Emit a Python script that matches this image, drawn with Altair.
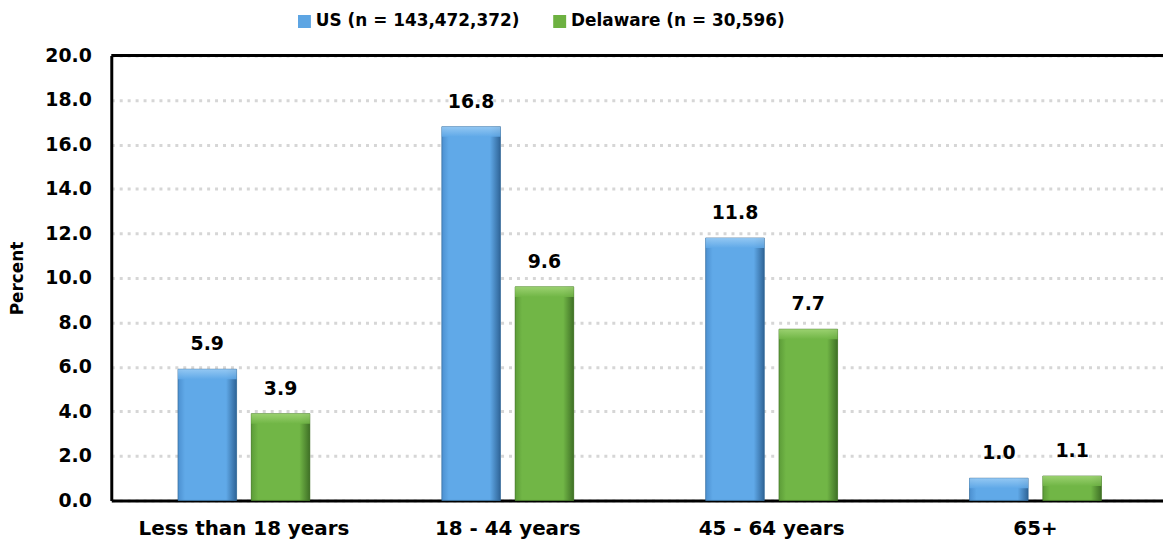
import altair as alt
import pandas as pd

categories = ["Less than 18 years", "18 - 44 years", "45 - 64 years", "65+"]
series = ["US (n = 143,472,372)", "Delaware (n = 30,596)"]
us_values = [5.9, 16.8, 11.8, 1.0]
de_values = [3.9, 9.6, 7.7, 1.1]
y_ticks = [0, 2, 4, 6, 8, 10, 12, 14, 16, 18, 20]
colors = ["#5DA5E3", "#6DB141"]

rows = []
for c, u, d in zip(categories, us_values, de_values):
    rows.append({"cat": c, "series": series[0], "value": u})
    rows.append({"cat": c, "series": series[1], "value": d})
df = pd.DataFrame(rows)

FONT = "DejaVu Sans"

x = alt.X("cat:N", sort=categories, title=None,
          scale=alt.Scale(paddingInner=0.5, paddingOuter=0.243, align=0.52),
          axis=alt.Axis(labelAngle=0, labelFont=FONT, labelFontSize=20, labelFontWeight="bold",
                        labelColor="black", ticks=False, labelPadding=18, labelLimit=0,
                        domainColor="black", domainWidth=3))
y = alt.Y("value:Q", title="Percent",
          scale=alt.Scale(domain=[0, 20], nice=False),
          axis=alt.Axis(values=y_ticks, format=".1f", labelFont=FONT, labelFontSize=19,
                        labelFontWeight="bold", labelColor="black", ticks=False, labelPadding=20,
                        domainColor="black", domainWidth=3,
                        grid=True, gridColor="#D6D6D6", gridWidth=3, gridDash=[3, 5],
                        titleFont=FONT, titleFontSize=17, titleFontWeight="bold", titleColor="black",
                        titleX=-94, titleY=224, titleAngle=270, titleBaseline="middle",
                        titleAlign="center"))
xoff = alt.XOffset("series:N", sort=series,
                   scale=alt.Scale(paddingInner=0.2, paddingOuter=0))
x_plain = alt.X("cat:N", sort=categories)
xoff_plain = alt.XOffset("series:N", sort=series)

bars = alt.Chart(df).mark_bar().encode(
    x=x, y=y, xOffset=xoff,
    color=alt.Color("series:N", sort=series,
                    scale=alt.Scale(domain=series, range=colors),
                    legend=alt.Legend(title=None, orient="none", direction="horizontal",
                                      legendX=186, legendY=-43, symbolType="square",
                                      symbolSize=170, symbolStrokeWidth=0,
                                      labelFont=FONT, labelFontSize=17, labelFontWeight="bold",
                                      labelColor="black", labelOffset=3, columnPadding=31,
                                      labelLimit=400, padding=0)),
)


def grad(edge_l, main, edge_r):
    return alt.Gradient(
        gradient="linear", x1=0, x2=1, y1=0, y2=0,
        stops=[alt.GradientStop(color=edge_l, offset=0),
               alt.GradientStop(color=main, offset=0.12),
               alt.GradientStop(color=main, offset=0.82),
               alt.GradientStop(color=edge_r, offset=1)])


def top_grad(light, main):
    return alt.Gradient(
        gradient="linear", x1=0, x2=0, y1=0, y2=1,
        stops=[alt.GradientStop(color=light, offset=0),
               alt.GradientStop(color=main, offset=1)])


shade_specs = [(series[0], grad("#4C90D0", "#60A9E8", "#2F6497"), "#2F5F8A",
                top_grad("#9CCDF5", "#60A9E8")),
               (series[1], grad("#5C9C38", "#71B646", "#3F7026"), "#3E6A25",
                top_grad("#A2D677", "#71B646"))]
shades = []
for s, g, st, tg in shade_specs:
    shades.append(
        alt.Chart(df).transform_filter(alt.datum.series == s).mark_bar(
            fill=g, stroke=st, strokeWidth=0.8, strokeOpacity=0.7).encode(
            x=x_plain, xOffset=xoff_plain, y="value:Q"))
    shades.append(
        alt.Chart(df).transform_filter(alt.datum.series == s)
        .transform_calculate(bevel="max(datum.value - 0.45, 0)")
        .mark_bar(fill=tg, opacity=0.85).encode(
            x=x_plain, xOffset=xoff_plain, y="value:Q", y2="bevel:Q"))

labels = alt.Chart(df).mark_text(font=FONT, fontSize=19, fontWeight="bold", color="black",
                                 dy=-25).encode(
    x=x_plain, xOffset=xoff_plain,
    y="value:Q", text=alt.Text("value:Q", format=".1f"))

top_df = pd.DataFrame({"v": [20]})
top_line = alt.Chart(top_df).mark_rule(color="black", strokeWidth=3).encode(
    y="v:Q", x=alt.value(0), x2=alt.value(1064))

chart = alt.layer(bars, *shades, labels, top_line).properties(
    width=1059, height=448,
    autosize=alt.AutoSizeParams(type="none"),
    padding={"left": 104, "top": 46, "right": 0, "bottom": 38},
).configure_view(stroke=None).configure(background="white")

chart.save("out.html", embed_options={"renderer": "svg", "actions": False})
